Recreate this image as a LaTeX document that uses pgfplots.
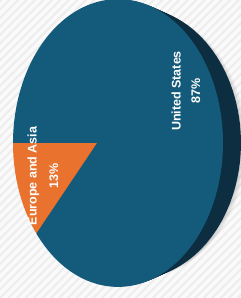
\documentclass[border=0pt]{standalone}
\usepackage{pgfplots}
\pgfplotsset{compat=1.18}
\usepackage{pgfplotstable}
\usepackage{fontspec}
\setmainfont{Liberation Sans}
\usetikzlibrary{patterns.meta}
\definecolor{face}{HTML}{145B7B}
\definecolor{slice}{HTML}{E8722E}
\definecolor{rim}{HTML}{0C2E40}
\definecolor{stripe}{HTML}{EDEDED}
\definecolor{bg}{HTML}{FAFAFA}
\pgfplotstableread{
region value
Europe 13
US 87
}\shares
\pgfplotstablegetelem{0}{value}\of\shares
\let\eu\pgfplotsretval
\pgfmathsetmacro\aEnd{180+3.6*\eu}
\begin{document}
\begin{tikzpicture}
\begin{axis}[
  at={(0,0)}, anchor=south west,
  width=241pt, height=298pt, scale only axis,
  xmin=0, xmax=241, ymin=0, ymax=298, y dir=reverse,
  hide axis, clip=true,
  declare function={
    px(\t)=97+100.8*cos(\t)/(1-0.2*cos(\t));
    py(\t)=143-141*sin(\t)/(1-0.2*cos(\t));
  },
]
\fill[bg] (axis cs:0,0) rectangle (axis cs:241,298);
\fill[pattern={Lines[angle=45,distance=6pt,line width=2pt]},pattern color=stripe] (axis cs:0,0) rectangle (axis cs:241,298);
% soft drop shadow
\pgfplotsinvokeforeach{19,21,23}{
  \addplot[draw=none, fill=black, fill opacity=0.05, domain=0:360, samples=100]
    ({px(x)+#1},{143+(py(x)-143)*(1-0.06*#1/18)+1});
}
% rim (back of the disc)
\pgfplotsinvokeforeach{1.5,3,...,18}{
  \addplot[draw=none, fill=rim, domain=0:360, samples=100]
    ({px(x)+#1},{143+(py(x)-143)*(1-0.06*#1/18)});
}
% United States slice
\addplot[draw=none, fill=face, domain=\aEnd:540, samples=150]
  ({px(x)},{py(x)}) -- (axis cs:97,143) -- cycle;
% Europe and Asia slice
\addplot[draw=none, fill=slice, domain=180:\aEnd, samples=40]
  ({px(x)},{py(x)}) -- (axis cs:97,143) -- cycle;
\node[rotate=90, text=white, align=center, font=\bfseries\fontsize{12.5}{19.5}\selectfont]
  at (axis cs:186,91) {United States\\87\%};
\node[rotate=90, text=white, align=center, font=\bfseries\fontsize{12.5}{21.5}\selectfont]
  at (axis cs:43,176) {Europe and Asia\\13\%};
\end{axis}
\pgfresetboundingbox
\useasboundingbox (0,0) rectangle (241pt,298pt);
\end{tikzpicture}
\end{document}
